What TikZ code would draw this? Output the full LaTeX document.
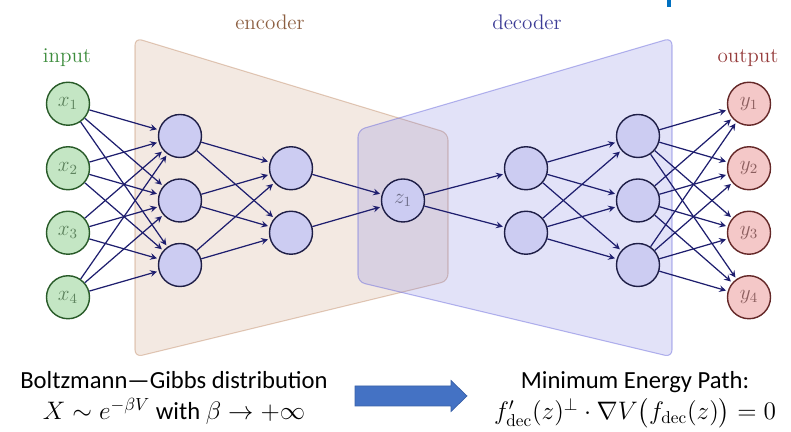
\documentclass[tikz,border=0pt]{standalone}
\usepackage{amsmath}
\usepackage{amssymb}
\usepackage{fontspec}
\usepackage{tikz}
\usetikzlibrary{positioning}
\newfontfamily\calibri{Carlito}
\definecolor{inpfill}{RGB}{196,230,196}
\definecolor{inpdraw}{RGB}{40,90,40}
\definecolor{hidfill}{RGB}{204,204,242}
\definecolor{hiddraw}{RGB}{30,30,70}
\definecolor{outfill}{RGB}{244,200,200}
\definecolor{outdraw}{RGB}{100,40,40}
\definecolor{edgecol}{RGB}{30,30,110}
\definecolor{enccol}{RGB}{175,108,62}
\definecolor{deccol}{RGB}{110,110,220}
\definecolor{enctext}{RGB}{140,95,65}
\definecolor{dectext}{RGB}{60,60,150}
\definecolor{inptext}{RGB}{60,140,60}
\definecolor{outtext}{RGB}{150,60,60}
\definecolor{arrowblue}{RGB}{68,114,196}
\definecolor{topblue}{RGB}{0,112,192}
\tikzstyle{neuron} = [circle, draw, line width=0.8pt, minimum size=0.86cm, inner sep=0pt, font=\large]
\tikzstyle{inp} = [neuron, fill=inpfill, draw=inpdraw, text=inpdraw!75]
\tikzstyle{hid} = [neuron, fill=hidfill, draw=hiddraw, text=hiddraw!65]
\tikzstyle{outp} = [neuron, fill=outfill, draw=outdraw, text=outdraw!75]
\tikzstyle{conn} = [-stealth, line width=0.7pt, draw=edgecol, shorten >=1pt]
\tikzstyle{panel} = [rounded corners=4pt, line width=0.6pt]
\tikzstyle{caption} = [font=\calibri\fontsize{14}{18}\selectfont, align=center]

\begin{document}
\begin{tikzpicture}
			\useasboundingbox (0,0) rectangle (15.82,8.64);
			\fill[topblue] (13.34,8.50) rectangle (13.42,8.64);
			% encoder / decoder panels
			\draw[panel, draw=enccol, draw opacity=0.35, fill=enccol, fill opacity=0.15] (2.70,7.88) -- (8.96,5.98) -- (8.96,3.02) -- (2.70,1.50) -- cycle;
			\draw[panel, draw=deccol, draw opacity=0.5, fill=deccol, fill opacity=0.2] (7.16,6.04) -- (13.44,7.88) -- (13.44,1.50) -- (7.16,3.00) -- cycle;
			\node[font=\large, text=enctext] (enclabel) at (5.40,8.20) {encoder};
			\node[font=\large, text=dectext] (declabel) at (10.54,8.20) {decoder};
			\node[font=\large, text=inptext] (inlabel) at (1.34,7.48) {input};
			\node[font=\large, text=outtext] (outlabel) at (14.96,7.48) {output};
			% layers
			\foreach \i/\y in {1/6.565,2/5.275,3/3.985,4/2.695} {
				\node[inp] (x\i) at (1.36,\y) {$x_{\i}$};
				\node[outp] (y\i) at (14.98,\y) {$y_{\i}$};
			}
			\foreach \i/\y in {1/5.92,2/4.63,3/3.34} {
				\node[hid] (a\i) at (3.60,\y) {};
				\node[hid] (e\i) at (12.76,\y) {};
			}
			\foreach \i/\y in {1/5.275,2/3.985} {
				\node[hid] (b\i) at (5.82,\y) {};
				\node[hid] (c\i) at (10.52,\y) {};
			}
			\node[hid] (z1) at (8.06,4.63) {$z_1$};
			% connections
			\foreach \i in {1,...,4} \foreach \j in {1,2,3} \draw[conn] (x\i) -- (a\j);
			\foreach \i in {1,2,3} \foreach \j in {1,2} \draw[conn] (a\i) -- (b\j);
			\foreach \i in {1,2} {
				\draw[conn] (b\i) -- (z1);
				\draw[conn] (z1) -- (c\i);
			}
			\foreach \i in {1,2} \foreach \j in {1,2,3} \draw[conn] (c\i) -- (e\j);
			\foreach \i in {1,2,3} \foreach \j in {1,...,4} \draw[conn] (e\i) -- (y\j);
			% bottom
			\node[caption] (gibbs) at (3.48,0.68) {Boltzmann—Gibbs distribution\\$X\sim e^{-\beta V}$ with $\beta\to+\infty$};
			\node[caption] (mep) at (12.70,0.64) {Minimum Energy Path:\\$f'_{\mathrm{dec}}(z)^{\perp}\cdot\nabla V\bigl(f_{\mathrm{dec}}(z)\bigr)=0$};
			\draw[fill=arrowblue, draw=arrowblue!85!black, line width=0.4pt] (7.10,0.52) -- (9.02,0.52) -- (9.02,0.41) -- (9.34,0.72) -- (9.02,1.03) -- (9.02,0.92) -- (7.10,0.92) -- cycle;
		\end{tikzpicture}
\end{document}
